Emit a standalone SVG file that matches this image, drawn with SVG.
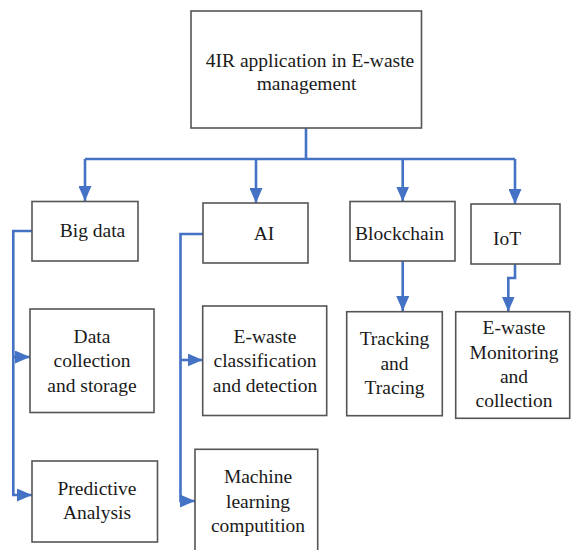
<svg xmlns="http://www.w3.org/2000/svg" width="571" height="550" viewBox="0 0 571 550">
<style>
.box{fill:#ffffff;stroke:#555555;stroke-width:1.6}
.t{font-family:'Liberation Serif','Times New Roman','DejaVu Serif',Times,serif;font-size:19.5px;fill:#1a1a1a;text-anchor:middle}
.c{fill:none;stroke:#4472C4;stroke-width:2.6;stroke-linejoin:miter}
</style>
<defs>
<marker id="ah" viewBox="0 0 15 13" refX="15" refY="6.5" markerWidth="15" markerHeight="13" markerUnits="userSpaceOnUse" orient="auto">
<path d="M0,0 L15,6.5 L0,13 Z" fill="#4472C4"/>
</marker>
</defs>
<rect width="571" height="550" fill="#ffffff"/>
<g id="connectors">
<path class="c" d="M306,128 V159"/>
<path class="c" d="M85,159 H515"/>
<path class="c" d="M85,159 V201" marker-end="url(#ah)"/>
<path class="c" d="M256,159 V203" marker-end="url(#ah)"/>
<path class="c" d="M402.7,159 V201.5" marker-end="url(#ah)"/>
<path class="c" d="M515,159 V204" marker-end="url(#ah)"/>
<path class="c" d="M32,231 H13.3 V357"/>
<path class="c" d="M13.3,357 H30" marker-end="url(#ah)"/>
<path class="c" d="M13.3,357 V495 H32" marker-end="url(#ah)"/>
<path class="c" d="M203,234 H180.5 V360"/>
<path class="c" d="M180.5,360 H202.7" marker-end="url(#ah)"/>
<path class="c" d="M180.5,360 V501 H195" marker-end="url(#ah)"/>
<path class="c" d="M402.7,261 V311" marker-end="url(#ah)"/>
<path class="c" d="M515,264 V278 H508.3 V311.5" marker-end="url(#ah)"/>
</g>
<g font-family="Liberation Serif, DejaVu Serif, serif">
<g id="root">
<rect class="box" x="191" y="11" width="230.5" height="117"/>
<text class="t" x="310" y="67">4IR application in E-waste</text>
<text class="t" x="306.5" y="89.5">management</text>
</g>
<g id="bigdata">
<rect class="box" x="32" y="201.5" width="106" height="59.5"/>
<text class="t" x="92.5" y="237">Big data</text>
</g>
<g id="ai">
<rect class="box" x="203" y="203" width="105" height="60"/>
<text class="t" x="264" y="240">AI</text>
</g>
<g id="blockchain">
<rect class="box" x="350" y="201.5" width="105" height="59.5"/>
<text class="t" x="399.5" y="240">Blockchain</text>
</g>
<g id="iot">
<rect class="box" x="471" y="204" width="89" height="60"/>
<text class="t" x="507" y="245">IoT</text>
</g>
<g id="datacollection">
<rect class="box" x="30" y="309" width="124" height="103.5"/>
<text class="t" x="92" y="343">Data</text>
<text class="t" x="92" y="367">collection</text>
<text class="t" x="92" y="391.5">and storage</text>
</g>
<g id="predictive">
<rect class="box" x="32" y="461" width="125.5" height="81"/>
<text class="t" x="97" y="495">Predictive</text>
<text class="t" x="97" y="519">Analysis</text>
</g>
<g id="classification">
<rect class="box" x="202.7" y="306" width="124" height="109.5"/>
<text class="t" x="265" y="343">E-waste</text>
<text class="t" x="265" y="367">classification</text>
<text class="t" x="265" y="391.5">and detection</text>
</g>
<g id="ml">
<rect class="box" x="195" y="449.3" width="122.7" height="110"/>
<text class="t" x="258" y="483">Machine</text>
<text class="t" x="258" y="508">learning</text>
<text class="t" x="258" y="532">computition</text>
</g>
<g id="tracking">
<rect class="box" x="346.7" y="311.7" width="95.6" height="104"/>
<text class="t" x="394.5" y="345">Tracking</text>
<text class="t" x="394.5" y="370">and</text>
<text class="t" x="394.5" y="393.5">Tracing</text>
</g>
<g id="monitoring">
<rect class="box" x="455.7" y="311.7" width="114" height="106.6"/>
<text class="t" x="514" y="334">E-waste</text>
<text class="t" x="514" y="358.5">Monitoring</text>
<text class="t" x="514" y="383">and</text>
<text class="t" x="514" y="406.5">collection</text>
</g>
</g>
</svg>
